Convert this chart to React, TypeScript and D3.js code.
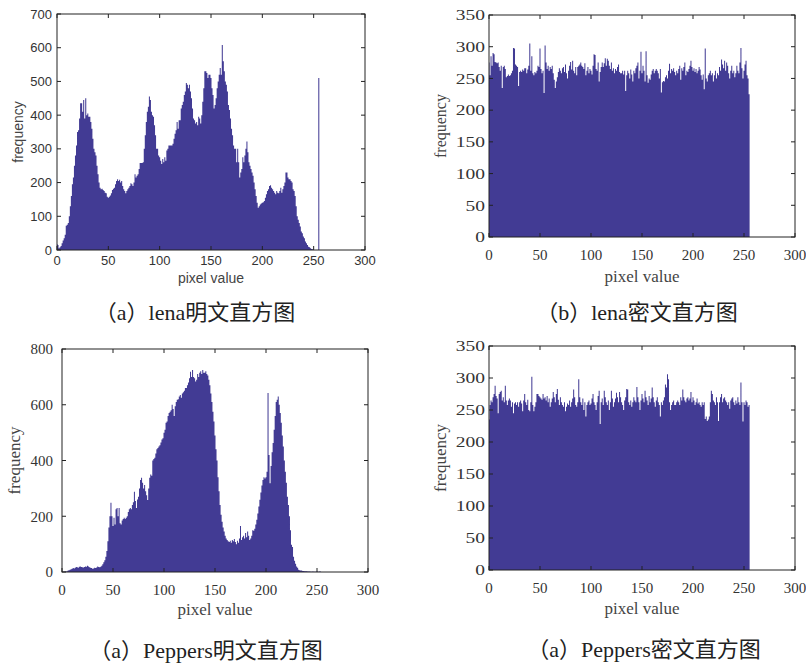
import React from "react";
import * as d3 from "d3";

// histogram counts, one value per grey level 0..255
const lenaPlain = [
  18, 15, 5, 8, 12, 20, 28, 35, 45, 72,
  75, 80, 100, 130, 160, 195, 215, 250, 280, 310,
  350, 355, 390, 435, 435, 410, 445, 390, 450, 400,
  405, 395, 395, 380, 360, 330, 300, 290, 280, 250,
  225, 200, 185, 180, 182, 178, 175, 170, 168, 158,
  155, 158, 162, 168, 178, 182, 185, 195, 205, 210,
  205, 208, 200, 205, 190, 180, 175, 168, 175, 180,
  185, 190, 198, 195, 190, 200, 225, 215, 220, 225,
  240, 258, 258, 258, 260, 300, 340, 380, 410, 425,
  455, 445, 410, 400, 395, 370, 340, 300, 300, 280,
  275, 265, 255, 270, 260, 275, 265, 295, 300, 310,
  310, 310, 310, 315, 330, 345, 355, 380, 360, 385,
  385, 420, 430, 440, 460, 470, 495, 490, 480, 490,
  470, 450, 420, 390, 385, 375, 380, 370, 395, 390,
  375, 400, 440, 480, 530, 530, 525, 510, 520, 520,
  510, 480, 460, 420, 430, 450, 480, 500, 520, 540,
  520, 608, 560, 530, 500, 490, 470, 430, 415, 390,
  360, 340, 310, 300, 300, 260, 300, 260, 215, 230,
  240, 275, 260, 280, 300, 322, 290, 260, 250, 240,
  230, 220, 200, 180, 160, 140, 125, 130, 135, 138,
  140, 142, 145, 155, 165, 175, 180, 190, 192, 185,
  180, 175, 170, 165, 175, 170, 168, 175, 185, 170,
  180, 190, 200, 230, 230, 215, 210, 210, 205, 200,
  180, 175, 160, 130, 100, 90, 80, 70, 55, 50,
  40, 35, 25, 20, 15, 10, 8, 5, 3, 2,
  0, 0, 0, 0, 0, 510,
];

const lenaCipher = [
  275, 255, 285, 270, 290, 288, 276, 275, 274, 275,
  268, 262, 270, 235, 268, 270, 265, 252, 254, 256,
  254, 255, 258, 262, 298, 297, 272, 270, 268, 238,
  260, 262, 260, 264, 262, 266, 266, 258, 264, 270,
  305, 262, 285, 258, 255, 260, 258, 262, 270, 268,
  297, 265, 258, 262, 227, 302, 275, 265, 270, 262,
  268, 265, 270, 258, 248, 235, 245, 252, 260, 266,
  262, 258, 266, 268, 260, 272, 258, 250, 262, 270,
  276, 264, 278, 262, 258, 268, 255, 268, 270, 272,
  275, 270, 268, 265, 274, 255, 262, 268, 258, 265,
  262, 256, 270, 288, 287, 265, 262, 275, 245, 260,
  268, 275, 268, 274, 282, 270, 281, 278, 270, 265,
  275, 262, 266, 258, 265, 262, 268, 272, 260, 258,
  258, 262, 256, 262, 230, 255, 262, 258, 250, 264,
  256, 245, 262, 258, 266, 270, 275, 250, 262, 292,
  258, 270, 262, 245, 293, 255, 243, 250, 248, 256,
  262, 265, 258, 262, 265, 262, 258, 250, 265, 228,
  244, 246, 245, 252, 255, 250, 262, 273, 258, 265,
  262, 266, 260, 255, 262, 258, 265, 270, 248, 266,
  262, 268, 275, 255, 262, 260, 265, 270, 278, 268,
  262, 266, 260, 265, 258, 262, 268, 264, 255, 248,
  256, 233, 297, 250, 245, 255, 258, 262, 255, 258,
  245, 255, 262, 250, 258, 255, 268, 262, 280, 272,
  266, 278, 262, 275, 270, 258, 250, 262, 270, 258,
  262, 252, 258, 270, 262, 258, 275, 298, 266, 250,
  262, 272, 278, 255, 250, 225,
];

const peppersPlain = [
  0, 1, 1, 2, 2, 3, 5, 6, 8, 10,
  12, 14, 13, 15, 18, 17, 15, 19, 20, 18,
  17, 16, 18, 20, 19, 22, 20, 17, 15, 14,
  12, 13, 15, 14, 16, 20, 18, 17, 19, 22,
  28, 35, 42, 55, 75, 110, 160, 200, 248, 200,
  165, 195, 170, 225, 230, 200, 230, 175, 170, 185,
  190, 195, 190, 195, 200, 215, 225, 230, 225, 240,
  250, 288, 255, 230, 260, 270, 300, 330, 338, 320,
  300, 312, 290, 275, 258, 300, 338, 350, 345, 400,
  405, 410, 425, 440, 445, 450, 455, 465, 475, 480,
  500, 510, 535, 540, 560, 570, 575, 580, 600, 585,
  560, 595, 610, 618, 620, 630, 635, 625, 640, 645,
  650, 660, 660, 670, 680, 695, 718, 700, 725, 700,
  695, 683, 690, 710, 700, 715, 720, 710, 725, 715,
  715, 720, 710, 705, 690, 670, 640, 610, 575, 540,
  490, 440, 400, 340, 290, 240, 205, 180, 160, 145,
  130, 120, 115, 110, 108, 112, 105, 115, 110, 118,
  108, 100, 112, 105, 120, 165, 115, 125, 130, 120,
  140, 125, 145, 130, 115, 120, 130, 150, 148, 155,
  170, 187, 210, 235, 259, 285, 310, 330, 340, 335,
  340, 360, 642, 420, 318, 380, 430, 463, 510, 560,
  610, 618, 630, 600, 570, 535, 490, 450, 400, 360,
  320, 270, 240, 200, 150, 98, 90, 55, 40, 30,
  20, 15, 8, 6, 5, 5, 4, 4, 3, 3,
  3, 2, 2, 2, 1, 1, 2, 1, 1, 1,
  2, 1, 1, 3, 0, 0,
];

const peppersCipher = [
  235, 258, 265, 262, 270, 275, 288, 272, 268, 245,
  275, 278, 280, 265, 270, 262, 288, 265, 258, 265,
  268, 265, 255, 262, 245, 260, 262, 258, 262, 255,
  262, 265, 260, 248, 265, 275, 262, 258, 266, 250,
  248, 262, 302, 258, 248, 255, 262, 275, 275, 272,
  270, 268, 266, 275, 268, 270, 265, 272, 262, 268,
  255, 262, 268, 278, 270, 262, 275, 283, 266, 258,
  270, 262, 258, 255, 262, 248, 255, 260, 258, 265,
  255, 262, 268, 282, 270, 258, 255, 262, 298, 270,
  262, 258, 268, 250, 262, 240, 258, 262, 265, 258,
  260, 268, 275, 262, 258, 250, 262, 272, 280, 228,
  262, 268, 258, 280, 270, 262, 258, 265, 250, 262,
  280, 268, 255, 262, 268, 277, 270, 262, 278, 270,
  262, 258, 250, 265, 270, 283, 282, 262, 258, 265,
  255, 262, 270, 265, 262, 286, 270, 262, 250, 265,
  275, 268, 262, 280, 270, 265, 258, 272, 262, 268,
  285, 270, 262, 255, 265, 270, 262, 258, 240, 262,
  258, 265, 270, 290, 285, 306, 298, 262, 250, 258,
  262, 265, 258, 258, 262, 265, 262, 258, 270, 265,
  282, 270, 265, 262, 268, 270, 265, 268, 278, 262,
  270, 265, 258, 262, 268, 260, 262, 258, 255, 262,
  258, 262, 236, 240, 233, 235, 240, 262, 280, 275,
  265, 262, 258, 270, 262, 233, 262, 270, 275, 262,
  268, 270, 265, 262, 258, 262, 252, 265, 268, 270,
  262, 258, 265, 260, 270, 262, 258, 293, 262, 232,
  262, 258, 265, 262, 255, 258,
];

const xTicks = [0, 50, 100, 150, 200, 250, 300];
const lenaPlainTicks = [0, 100, 200, 300, 400, 500, 600, 700];
const cipherTicks = [0, 50, 100, 150, 200, 250, 300, 350];
const peppersPlainTicks = [0, 200, 400, 600, 800];

// caption parts: [label letter, image name, description]
const captions = [
  ["a", "lena", "明文直方图"],
  ["b", "lena", "密文直方图"],
  ["a", "Peppers", "明文直方图"],
  ["a", "Peppers", "密文直方图"],
];

const BAR = "#423b94";
const SANS = "'Liberation Sans', Arial, sans-serif";
const SERIF = "'Liberation Serif', 'Times New Roman', serif";
const CJK = "'Noto Sans CJK SC', sans-serif";

type PanelProps = {
  id: string;
  values: number[];
  yTicks: number[];
  left: number;
  right: number;
  top: number;
  bottom: number;
  font: string;
  tickSize: number;
  labelSize: number;
  yTickStretch: number;
  xTickGap: number;
  xLabelY: number;
  yLabelX: number;
  yLabelSize: number;
  yTickGap: number;
};

function Panel(p: PanelProps) {
  const x = d3.scaleLinear().domain([0, 300]).range([p.left, p.right]);
  const yMax = p.yTicks[p.yTicks.length - 1];
  const y = d3.scaleLinear().domain([0, yMax]).range([p.bottom, p.top]);
  const tk = 4;
  const textColor = "#333";
  const labelColor = "#444";

  // each bin becomes a flat top from i-0.5 to i+0.5, drawn as one filled shape
  const steps = p.values.flatMap((v, i) => [
    { b: i - 0.5, v },
    { b: i + 0.5, v },
  ]);
  const area = d3
    .area<{ b: number; v: number }>()
    .x((d) => x(d.b))
    .y0(y(0))
    .y1((d) => y(d.v));

  return (
    <g>
      <defs>
        <clipPath id={p.id}>
          <rect x={p.left} y={p.top} width={p.right - p.left} height={p.bottom - p.top} />
        </clipPath>
      </defs>
      <path d={area(steps) || ""} fill={BAR} clipPath={`url(#${p.id})`} />
      <rect
        x={p.left}
        y={p.top}
        width={p.right - p.left}
        height={p.bottom - p.top}
        fill="none"
        stroke="#222"
        strokeWidth={1}
      />
      {xTicks.map((t) => (
        <g key={"x" + t}>
          <line x1={x(t)} x2={x(t)} y1={p.bottom} y2={p.bottom - tk} stroke="#222" />
          <line x1={x(t)} x2={x(t)} y1={p.top} y2={p.top + tk} stroke="#222" />
          <text
            x={x(t)}
            y={p.bottom + p.xTickGap}
            textAnchor="middle"
            fontFamily={p.font}
            fontSize={p.tickSize}
            fill={textColor}
          >
            {t}
          </text>
        </g>
      ))}
      {p.yTicks.map((t) => (
        <g key={"y" + t}>
          <line x1={p.left} x2={p.left + tk} y1={y(t)} y2={y(t)} stroke="#222" />
          <line x1={p.right} x2={p.right - tk} y1={y(t)} y2={y(t)} stroke="#222" />
          <text
            transform={`translate(${p.left - p.yTickGap},${y(t)}) scale(${p.yTickStretch},1)`}
            dy="0.35em"
            textAnchor="end"
            fontFamily={p.font}
            fontSize={p.tickSize}
            fill={textColor}
          >
            {t}
          </text>
        </g>
      ))}
      <text
        x={(p.left + p.right) / 2}
        y={p.xLabelY}
        textAnchor="middle"
        fontFamily={p.font}
        fontSize={p.labelSize}
        fill={labelColor}
      >
        pixel value
      </text>
      <text
        transform={`translate(${p.yLabelX},${(p.top + p.bottom) / 2}) rotate(-90)`}
        textAnchor="middle"
        fontFamily={p.font}
        fontSize={p.yLabelSize}
        fill={labelColor}
      >
        frequency
      </text>
    </g>
  );
}

function Caption({ x, y, parts }: { x: number; y: number; parts: string[] }) {
  return (
    <text x={x} y={y} textAnchor="middle" fontSize={22} fill="#222">
      <tspan fontFamily={CJK}>（</tspan>
      <tspan fontFamily={SERIF}>{parts[0]}</tspan>
      <tspan fontFamily={CJK}>）</tspan>
      <tspan fontFamily={SERIF}>{parts[1]}</tspan>
      <tspan fontFamily={CJK}>{parts[2]}</tspan>
    </text>
  );
}

export default function App() {
  return (
    <svg
      width={806}
      height={666}
      style={{ position: "absolute", left: 0, top: 0, background: "#fff" }}
    >
      <rect width={806} height={666} fill="#fff" />
      <Panel
        id="c1" values={lenaPlain} yTicks={lenaPlainTicks}
        left={57} right={365} top={14} bottom={250}
        font={SANS} tickSize={13} labelSize={14} yLabelSize={14}
        yTickStretch={1} yTickGap={5} xTickGap={15}
        xLabelY={283} yLabelX={23}
      />
      <Panel
        id="c2" values={lenaCipher} yTicks={cipherTicks}
        left={489} right={795} top={15} bottom={237}
        font={SERIF} tickSize={15} labelSize={17} yLabelSize={16}
        yTickStretch={1.3} yTickGap={4} xTickGap={23}
        xLabelY={282} yLabelX={446}
      />
      <Panel
        id="c3" values={peppersPlain} yTicks={peppersPlainTicks}
        left={62} right={368} top={349} bottom={572}
        font={SERIF} tickSize={15} labelSize={17} yLabelSize={17}
        yTickStretch={1} yTickGap={9} xTickGap={23}
        xLabelY={615} yLabelX={20}
      />
      <Panel
        id="c4" values={peppersCipher} yTicks={cipherTicks}
        left={489} right={795} top={346} bottom={570}
        font={SERIF} tickSize={15} labelSize={17} yLabelSize={17}
        yTickStretch={1.3} yTickGap={4} xTickGap={23}
        xLabelY={614} yLabelX={446}
      />
      <Caption x={195} y={320} parts={captions[0]} />
      <Caption x={637} y={320} parts={captions[1]} />
      <Caption x={206} y={658} parts={captions[2]} />
      <Caption x={644} y={657} parts={captions[3]} />
    </svg>
  );
}
